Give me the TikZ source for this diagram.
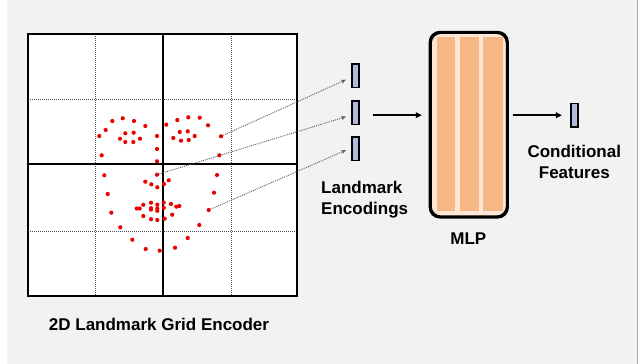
\documentclass[tikz,border=0pt]{standalone}
\usepackage{fontspec}
\setmainfont{Liberation Sans}
\usetikzlibrary{arrows.meta,calc}
\definecolor{panel}{RGB}{242,242,242}
\definecolor{edgegray}{RGB}{170,170,170}
\definecolor{barblue}{RGB}{176,184,221}
\definecolor{peachlight}{RGB}{253,230,214}
\definecolor{peach}{RGB}{247,183,133}
\definecolor{dotred}{RGB}{235,0,0}
\definecolor{lineg}{RGB}{80,80,90}
\tikzset{
  lbl/.style={font=\fontsize{17}{21}\selectfont\bfseries, inner sep=0pt},
  dotm/.style={circle, fill=dotred, inner sep=0pt, minimum size=4.2pt},
  encbar/.style={draw=black, line width=1.6pt, fill=barblue, minimum width=7.5pt, minimum height=23.5pt, inner sep=0pt},
  gdot/.style={lineg, line width=1pt, dash pattern=on 1pt off 1pt},
  conn/.style={lineg, line width=0.8pt, dash pattern=on 1pt off 1pt, -{Stealth[length=5pt,width=4pt]}},
  arr/.style={black, line width=1.7pt, -{Triangle[length=6pt,width=5.5pt]}},
}
\begin{document}
\begin{tikzpicture}[x=1pt,y=-1pt]
\useasboundingbox (0,0) rectangle (640,364);
% panel
\fill[white] (0,0) rectangle (640,364);
\fill[panel] (7,0) rectangle (637,364);
\draw[edgegray, line width=1pt] (637,0) -- (637,364);
% grid
\fill[white] (28,34) rectangle (297,296);
\draw[gdot] (95,34) -- (95,296);
\draw[gdot] (231,34) -- (231,296);
\draw[gdot] (28,99) -- (297,99);
\draw[gdot] (28,231) -- (297,231);
\draw[black, line width=1.6pt] (163,34) -- (163,296);
\draw[black, line width=1.6pt] (28,164) -- (297,164);
\draw[black, line width=2.5pt] (28,34) rectangle (297,296);
% landmark dots
\foreach \px/\py [count=\i] in {
 99.3/136, 105.7/130, 112.3/121, 122.7/118.3, 134/121, 145.3/126,
 125.3/133.3, 133.7/132.7, 120/138.7, 125.3/142, 133.3/142, 140/138.7,
 157/136, 157/149, 157/161.3, 101.7/155.3,
 166.3/124.7, 177.3/120, 188.3/117.3, 199.7/117.7, 208/125.3,
 179.7/132, 187.7/131.3, 194.7/136, 173.3/138, 181/140.7, 188.7/140,
 219.3/155.3,
 104.3/175.3, 217/175, 145.3/181.7, 151.3/184.3, 157.3/187.3, 164/184, 168.7/180.3,
 107.7/194, 214/192.7, 111.3/212.7, 120.3/227.3, 199.3/225,
 132.3/239.7, 187.7/238, 145.7/249, 159.7/250.7, 175/247.7,
 136.7/208.5, 139.7/208.5, 143.3/204.8, 151/202.7, 157.3/204.7, 163.7/202.5,
 171/204, 176.3/206.7, 179.3/206, 151/208.2, 151/209.6, 157.3/208.5, 157.3/210.8,
 163.8/207.8, 143.3/216, 151/219.2, 157.3/220, 164.7/218.7, 172.2/214.7}
  \node[dotm] (d\i) at (\px,\py) {};
\node[dotm] (e1) at (221,136.3) {};
\node[dotm] (e2) at (157,174.7) {};
\node[dotm] (e3) at (208.7,210) {};
% encoding bars
\node[encbar] (b1) at (355.5,75.7) {};
\node[encbar] (b2) at (355.5,112.7) {};
\node[encbar] (b3) at (355.5,148.7) {};
\draw[conn] (e1) -- ([xshift=-5pt,yshift=-4pt]b1.west);
\draw[conn] (e2) -- ([xshift=-5pt,yshift=-4pt]b2.west);
\draw[conn] (e3) -- ([xshift=-5pt,yshift=-1.5pt]b3.west);
% MLP
\node[draw=black, line width=2pt, fill=peachlight, rounded corners=10pt,
      minimum width=76pt, minimum height=183.5pt, inner sep=0pt] (mlp) at (468.8,124.7) {};
\fill[peach] (436.7,36.7) rectangle (455,210.7);
\fill[peach] (460,36.7) rectangle (479,210.7);
\fill[peach] (483.3,36.7) rectangle (502.7,210.7);
\draw[black, line width=2.2pt, rounded corners=10pt] (mlp.north west) rectangle (mlp.south east);
% output bar
\node[encbar] (out) at (574.5,115.2) {};
% arrows
\draw[arr, shorten <=13pt, shorten >=8pt] (b2.east |- out) -- (mlp.west |- out);
\draw[arr, shorten <=5pt, shorten >=8pt] (mlp.east |- out) -- (out.west);
% labels
\node[lbl] (tgrid) at (159,324) {2D Landmark Grid Encoder};
\node[lbl, anchor=west, align=left] (tenc) at (321,200) {Landmark\\Encodings};
\node[lbl] (tmlp) at (468.3,238.7) {MLP};
\node[lbl, align=center] (tcond) at (574.3,161.5) {Conditional\\Features};
\end{tikzpicture}
\end{document}
